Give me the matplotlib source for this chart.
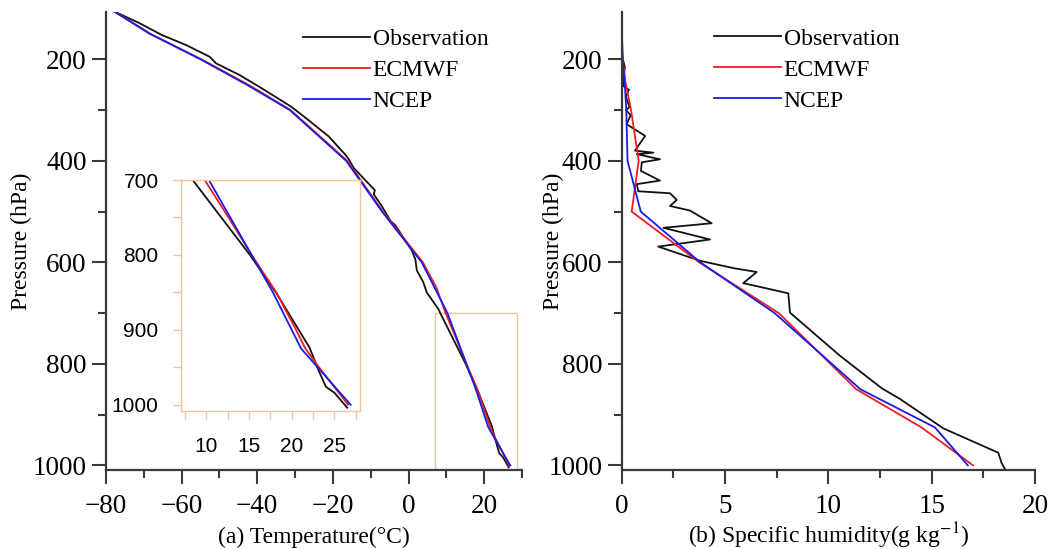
import matplotlib
matplotlib.use('Agg')
import matplotlib.pyplot as plt
from matplotlib.patches import Rectangle
from matplotlib.ticker import MultipleLocator

plt.rcParams['font.family'] = ['Liberation Serif', 'DejaVu Serif']
plt.rcParams['mathtext.fontset'] = 'stix'

# ---- dados: temperatura (hPa, °C) ----
obs_t_p = [100, 129, 152, 172, 195, 208, 231, 254, 293, 319, 352, 388, 397, 414,
           458, 466, 490, 518, 527, 577, 594, 616, 639, 659, 692, 700, 800, 851,
           924, 953, 976, 984, 1004]
obs_t = [-79.5, -71.1, -65.3, -58.8, -52.6, -50.9, -44.7, -39.5, -31.1, -26.6, -21.1,
         -16.7, -15.8, -14.5, -8.9, -9.2, -7.0, -4.8, -3.5, 0.9, 1.8, 2.2, 3.9, 4.8,
         7.9, 8.4, 15.1, 18.2, 22.1, 23.1, 24.0, 25.0, 26.5]

ec_t_p = [100, 150, 200, 250, 300, 400, 500, 600, 650, 700, 750, 800, 850, 900,
          925, 950, 975, 1000]
ec_t = [-79.0, -68.2, -54.8, -42.4, -31.2, -16.2, -6.8, 3.8, 7.4, 9.8, 12.6, 15.3,
        18.2, 20.5, 21.6, 23.2, 24.9, 26.6]

ncep_t_p = [100, 150, 200, 250, 300, 400, 500, 600, 700, 850, 925, 1000]
ncep_t = [-79.1, -68.4, -55.0, -42.8, -31.4, -16.5, -7.0, 3.5, 10.3, 17.8, 21.1, 26.9]

# ---- dados: umidade específica (hPa, g/kg) ----
obs_q_p = [100, 150, 190, 200, 215, 235, 253, 260, 274, 294, 300, 310, 328, 351,
           380, 384, 387, 397, 403, 420, 439, 446, 460, 464, 477, 489, 498, 523,
           532, 555, 569, 597, 612, 619, 641, 661, 699, 784, 848, 869, 927, 975,
           995, 1007]
obs_q = [0.0, 0.01, 0.02, 0.05, 0.15, 0.1, 0.08, 0.35, 0.2, 0.38, 0.2, 0.43, 0.24,
         1.13, 0.64, 1.53, 0.73, 1.85, 0.97, 0.93, 1.85, 0.73, 0.8, 2.34, 2.66,
         2.34, 3.3, 4.35, 2.02, 4.27, 1.77, 3.79, 5.48, 6.53, 5.88, 8.06, 8.14,
         10.56, 12.58, 13.46, 15.56, 18.22, 18.38, 18.54]

ec_q_p = [100, 150, 200, 250, 300, 400, 500, 600, 700, 850, 925, 1000]
ec_q = [0.0, 0.01, 0.04, 0.2, 0.45, 0.82, 0.48, 3.75, 7.6, 11.35, 14.5, 17.0]

ncep_q_p = [100, 150, 200, 250, 300, 400, 500, 600, 700, 850, 925, 1000]
ncep_q = [0.0, 0.01, 0.04, 0.15, 0.22, 0.28, 0.92, 3.8, 7.4, 11.55, 15.15, 16.75]

BLACK = '#111111'
RED = '#ee1c24'
BLUE = '#1a1ae6'
ORANGE = '#f7c39a'
SPINE = '#3a3a3a'


def estilo(ax, ylab_x, xlab):
    ax.spines['top'].set_visible(False)
    ax.spines['right'].set_visible(False)
    for s in ['left', 'bottom']:
        ax.spines[s].set_color(SPINE)
        ax.spines[s].set_linewidth(1.6)
    ax.set_ylim(1010, 106)
    ax.yaxis.set_major_locator(MultipleLocator(200))
    ax.yaxis.set_minor_locator(MultipleLocator(100))
    ax.tick_params(which='both', direction='out', color=SPINE, width=1.5,
                   labelsize=19.5)
    ax.tick_params(axis='y', pad=4)
    ax.tick_params(axis='x', pad=7)
    ax.tick_params(which='major', length=10)
    ax.tick_params(which='minor', length=6)
    ax.set_ylabel('Pressure (hPa)', fontsize=17)
    ax.yaxis.set_label_coords(ylab_x, 0.5)
    # rótulo do eixo x pela linha de base, igual nos dois painéis
    ax.set_xlabel(xlab, fontsize=17)
    ax.xaxis.set_label_coords(0.5, -0.158)
    ax.xaxis.label.set_verticalalignment('baseline')


def linhas(ax, dados):
    for (x, p), cor, nome in zip(dados, [BLACK, RED, BLUE],
                                  ['Observation', 'ECMWF', 'NCEP']):
        ax.plot(x, p, color=cor, lw=1.3, label=nome)


fig = plt.figure(figsize=(10.49, 5.49), dpi=100)

# (a) temperatura
ax1 = fig.add_axes([0.1010, 0.1430, 0.3966, 0.8360])
linhas(ax1, [(obs_t, obs_t_p), (ec_t, ec_t_p), (ncep_t, ncep_t_p)])
estilo(ax1, -0.178, '(a) Temperature(°C)')
ax1.set_xlim(-80, 30)
ax1.xaxis.set_major_locator(MultipleLocator(20))
ax1.xaxis.set_minor_locator(MultipleLocator(10))
ax1.add_patch(Rectangle((7, 700), 21.7, 320, fill=False, ec=ORANGE, lw=1.0,
                        clip_on=True))
ax1.legend(loc='upper left', bbox_to_anchor=(0.474, 0.962), frameon=False,
           fontsize=17, handlelength=2.85, handletextpad=0.1, labelspacing=0.4,
           borderpad=0, borderaxespad=0)

# inset 700-1000 hPa
axi = fig.add_axes([0.1723, 0.2519, 0.1709, 0.4202])
linhas(axi, [(obs_t, obs_t_p), (ec_t, ec_t_p), (ncep_t, ncep_t_p)])
axi.set_xlim(7, 28)
axi.set_ylim(1008, 700)
for s in axi.spines.values():
    s.set_color(ORANGE)
    s.set_linewidth(1.0)
axi.set_xticks([7.5, 10, 12.5, 15, 17.5, 20, 22.5, 25, 27.5])
axi.set_xticklabels(['', '10', '', '15', '', '20', '', '25', ''])
axi.set_yticks([700, 750, 800, 850, 900, 950, 1000])
axi.set_yticklabels(['700', '', '800', '', '900', '', '1000'])
axi.tick_params(axis='both', direction='out', length=6, width=1.0, color=ORANGE,
                labelcolor='black', labelsize=15)
axi.tick_params(axis='x', pad=13)
axi.tick_params(axis='y', pad=10)
for lab in axi.get_xticklabels() + axi.get_yticklabels():
    lab.set_family(['Liberation Sans', 'DejaVu Sans'])

# (b) umidade específica
ax2 = fig.add_axes([0.5927, 0.1430, 0.3940, 0.8360])
linhas(ax2, [(obs_q, obs_q_p), (ec_q, ec_q_p), (ncep_q, ncep_q_p)])
estilo(ax2, -0.14, '(b) Specific humidity(g kg$^{-1}$)')
ax2.set_xlim(0, 20)
ax2.xaxis.set_major_locator(MultipleLocator(5))
ax2.xaxis.set_minor_locator(MultipleLocator(2.5))
ax2.legend(loc='upper left', bbox_to_anchor=(0.223, 0.964), frameon=False,
           fontsize=17, handlelength=2.85, handletextpad=0.1, labelspacing=0.4,
           borderpad=0, borderaxespad=0)

fig.savefig('out.png', dpi=100)
